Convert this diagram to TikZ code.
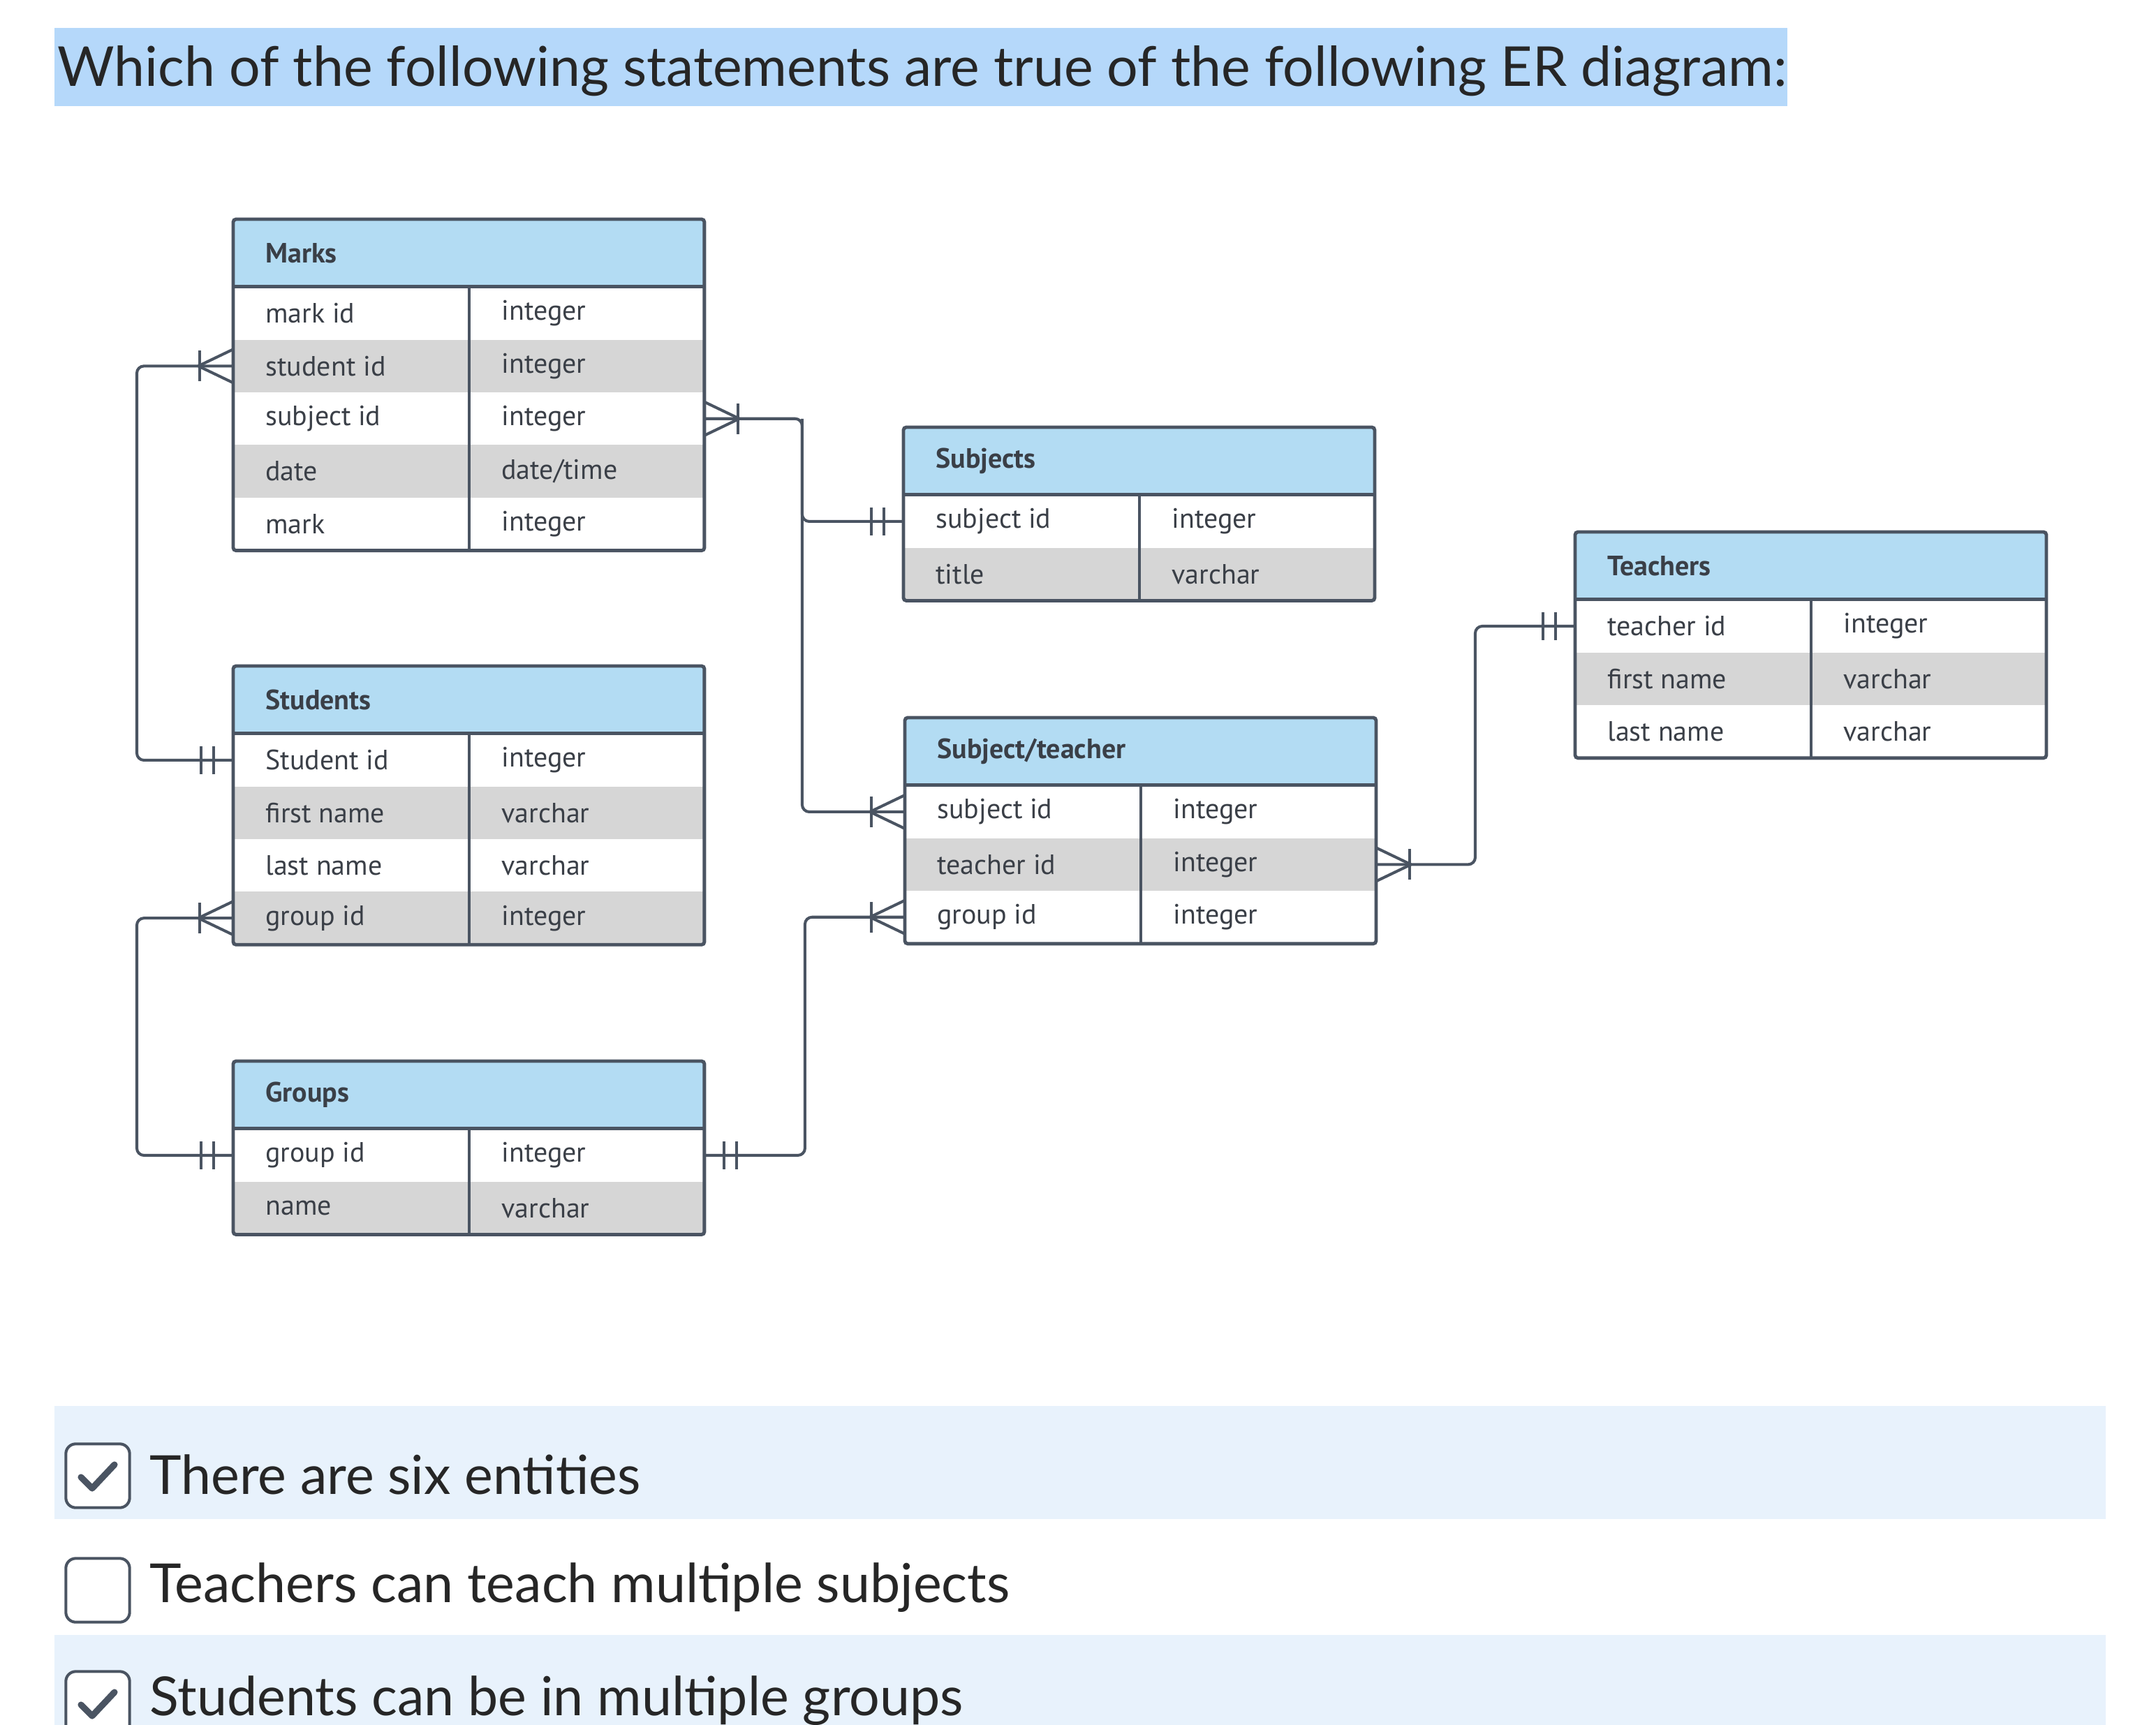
\documentclass[tikz,border=0pt]{standalone}
\usepackage{fontspec}
\setmainfont{PT Sans}
\newfontfamily\latofont{Lato}
\usetikzlibrary{calc}
\definecolor{ink}{HTML}{4A5462}
\definecolor{hdrblue}{HTML}{B3DCF3}
\definecolor{rowgray}{HTML}{D6D6D6}
\definecolor{txt}{HTML}{3A3F47}
\definecolor{titlehl}{HTML}{B5D8FA}
\definecolor{band}{HTML}{E8F2FC}
\tikzset{
  hdr/.style={rectangle, fill=hdrblue, minimum width=332pt, minimum height=47.3pt, inner sep=0pt},
  rowcell/.style={rectangle, minimum width=332pt, minimum height=37.13pt, inner sep=0pt},
  celltxt/.style={anchor=west, inner sep=0pt, text=txt, font=\fontsize{19.7}{22}\selectfont},
  hdrtxt/.style={anchor=west, inner sep=0pt, text=txt, font=\fontsize{19.7}{22}\selectfont\bfseries},
  tbl/.style={draw=ink, line width=2.4pt, rounded corners=2pt},
  conn/.style={draw=ink, line width=2pt, rounded corners=5pt},
  mk/.style={draw=ink, line width=2pt},
  optxt/.style={anchor=west, inner sep=0pt, text=black!85, font=\latofont\fontsize{38}{40}\selectfont},
  cbox/.style={draw=ink, line width=2pt, rounded corners=7pt, fill=white, minimum width=45pt, minimum height=45pt, inner sep=0pt}
}
\newcommand\ertable[5]{% name, topleft, title, nrows, rows
  \node[hdr, anchor=north west] (#1) at (#2) {};
  \node[hdrtxt] (#1-title) at ($(#1.west)+(23,0)$) {#3};
  \foreach \f/\t [count=\i] in {#5} {
    \ifodd\i\gdef\rc{white}\else\gdef\rc{rowgray}\fi
    \node[rowcell, fill=\rc, anchor=north west] (#1-\i) at ($(#1.south west)+(0,{(\i-1)*37.7})$) {};
    \node[celltxt] (#1-\i-f) at ($(#1-\i.west)+(23,0)$) {\f};
    \node[celltxt] (#1-\i-t) at ($(#1-\i.west)+(192,0)$) {\t};
  }
  \draw[tbl] (#1.north west) rectangle (#1-#4.south east);
  \draw[draw=ink, line width=2.4pt] (#1.south west) -- (#1.south east);
  \draw[draw=ink, line width=2pt] ($(#1.south west)+(169,0)$) -- ($(#1-#4.south west)+(169,0)$);
}
\newcommand\crowfoot[2]{% anchor, dir
  \draw[mk] ($(#1)+(#2*25,0)$) -- ($(#1)+(0,-12)$);
  \draw[mk] ($(#1)+(#2*25,0)$) -- ($(#1)+(0,12)$);
  \draw[mk] ($(#1)+(#2*24,-11)$) -- ($(#1)+(#2*24,11)$);
}
\newcommand\onebars[2]{%
  \draw[mk] ($(#1)+(#2*14,-10)$) -- ($(#1)+(#2*14,10)$);
  \draw[mk] ($(#1)+(#2*23,-10)$) -- ($(#1)+(#2*23,10)$);
}
\begin{document}
\begin{tikzpicture}[x=0.985pt,y=-0.985pt]
\useasboundingbox[fill=white] (0,0) rectangle (1544,1235.5);
% title
\fill[titlehl] (39,20) rectangle (1280,76);
\node[anchor=base west, inner sep=0pt, text=black!85, font=\latofont\fontsize{38.8}{40}\selectfont] (title) at (41,62) {Which of the following statements are true of the following ER diagram:};
% tables
\ertable{marks}{167,157}{Marks}{5}{mark id/integer, student id/integer, subject id/integer, date/date\slash time, mark/integer}
\ertable{subjects}{647,306}{Subjects}{2}{subject id/integer, title/varchar}
\ertable{students}{167,477}{Students}{4}{Student id/integer, first name/varchar, last name/varchar, group id/integer}
\ertable{groups}{167,760}{Groups}{2}{group id/integer, name/varchar}
\ertable{st}{648,514}{Subject/teacher}{3}{subject id/integer, teacher id/integer, group id/integer}
\ertable{teachers}{1128,381}{Teachers}{3}{teacher id/integer, first name/varchar, last name/varchar}
% connectors
\draw[conn] (marks-2.west) -- ++(-69,0) |- (students-1.west);
\crowfoot{marks-2.west}{-1}
\onebars{students-1.west}{-1}
\coordinate (j1) at ($(marks-3.east)+(70,0)$);
\draw[conn] (marks-3.east) -- (j1) |- (subjects-1.west);
\draw[conn] (j1) |- (st-1.west);
\crowfoot{marks-3.east}{1}
\onebars{subjects-1.west}{-1}
\crowfoot{st-1.west}{-1}
\draw[conn] (students-4.west) -- ++(-69,0) |- (groups-1.west);
\crowfoot{students-4.west}{-1}
\onebars{groups-1.west}{-1}
\draw[conn] (groups-1.east) -- ++(72,0) |- (st-3.west);
\onebars{groups-1.east}{1}
\crowfoot{st-3.west}{-1}
\draw[conn] (st-2.east) -- ++(71,0) |- (teachers-1.west);
\crowfoot{st-2.east}{1}
\onebars{teachers-1.west}{-1}
% options
\fill[band] (39,1007) rectangle (1508,1088);
\fill[band] (39,1171) rectangle (1508,1235.5);
\node[cbox] (cb1) at (70,1057) {};
\node[cbox] (cb2) at (70,1139) {};
\node[cbox] (cb3) at (70,1220) {};
\draw[ink, line width=4.5pt, line cap=round, line join=round] ($(cb1)+(-12,1)$) -- ($(cb1)+(-4,9)$) -- ($(cb1)+(12,-8)$);
\draw[ink, line width=4.5pt, line cap=round, line join=round] ($(cb3)+(-12,1)$) -- ($(cb3)+(-4,9)$) -- ($(cb3)+(12,-8)$);
\node[optxt] (o1) at (107,1056) {There are six entities};
\node[optxt] (o2) at (107,1137) {Teachers can teach multiple subjects};
\node[optxt] (o3) at (107,1218) {Students can be in multiple groups};
\end{tikzpicture}
\end{document}
